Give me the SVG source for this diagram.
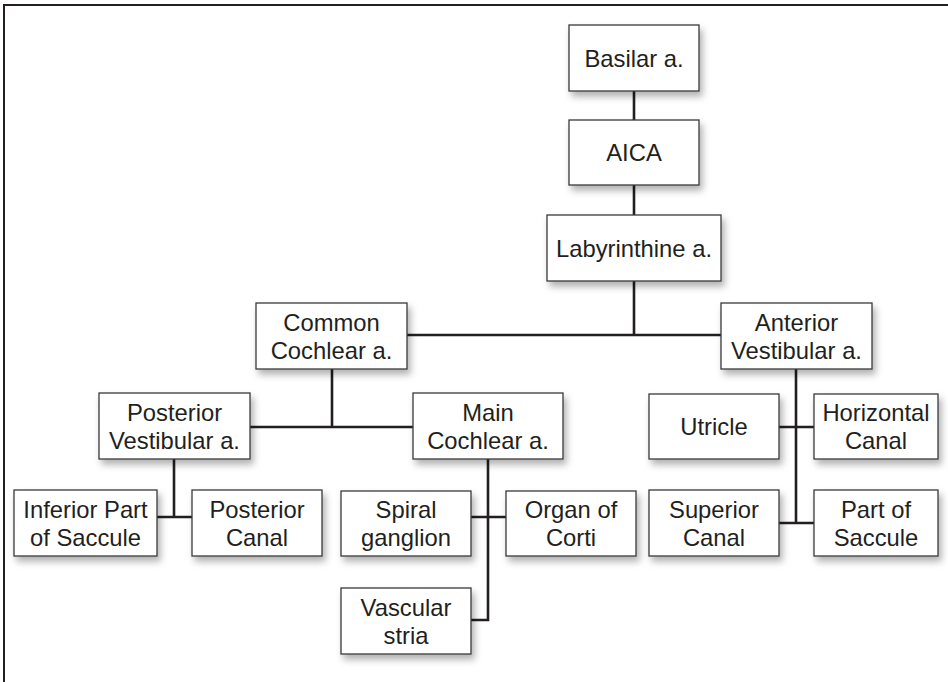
<svg xmlns="http://www.w3.org/2000/svg" width="948" height="682" viewBox="0 0 948 682">
  <defs>
    <filter id="shadow" x="-20%" y="-20%" width="150%" height="160%">
      <feDropShadow dx="3" dy="5" stdDeviation="3.5" flood-color="#000" flood-opacity="0.3"/>
    </filter>
    <style>
      .box { fill: #fff; stroke: #3a3a3a; stroke-width: 1.3; filter: url(#shadow); }
      .lbl { font-family: "Liberation Sans", Arial, Helvetica, sans-serif; font-size: 23.8px; fill: #231f20; text-anchor: middle; }
      .wire { fill: none; stroke: #231f20; stroke-width: 2.6; }
      .frame { fill: none; stroke: #231f20; stroke-width: 2; }
    </style>
  </defs>

  <rect width="948" height="682" fill="#fff"/>
  <path class="frame" d="M4,682 V5 H948"/>

  <!-- connectors -->
  <g id="connectors">
    <path class="wire" d="M634,91 V120 M634,185 V215 M634,281 V335"/>
    <path class="wire" d="M407,335 H721"/>
    <path class="wire" d="M332,369 V427 M250,427 H413"/>
    <path class="wire" d="M174,459 V517 M157,517 H192"/>
    <path class="wire" d="M488,459 V620 H471 M471,517 H506"/>
    <path class="wire" d="M796,369 V523 M779,427 H814 M779,523 H814"/>
  </g>

  <!-- nodes -->
  <g id="basilar">
    <rect class="box" x="569" y="25" width="130" height="66"/>
    <text class="lbl" x="634" y="66.5">Basilar a.</text>
  </g>
  <g id="aica">
    <rect class="box" x="569" y="120" width="130" height="65"/>
    <text class="lbl" x="634" y="161">AICA</text>
  </g>
  <g id="labyrinthine">
    <rect class="box" x="547" y="215" width="174" height="66"/>
    <text class="lbl" x="634" y="256.5">Labyrinthine a.</text>
  </g>
  <g id="common-cochlear">
    <rect class="box" x="256" y="303" width="151" height="66"/>
    <text class="lbl" x="331.5" y="331">Common</text>
    <text class="lbl" x="331.5" y="359">Cochlear a.</text>
  </g>
  <g id="anterior-vestibular">
    <rect class="box" x="721" y="303" width="151" height="66"/>
    <text class="lbl" x="796.5" y="331">Anterior</text>
    <text class="lbl" x="796.5" y="359">Vestibular a.</text>
  </g>
  <g id="posterior-vestibular">
    <rect class="box" x="99" y="393" width="151" height="66"/>
    <text class="lbl" x="174.5" y="421">Posterior</text>
    <text class="lbl" x="174.5" y="449">Vestibular a.</text>
  </g>
  <g id="main-cochlear">
    <rect class="box" x="413" y="393" width="150" height="66"/>
    <text class="lbl" x="488" y="421">Main</text>
    <text class="lbl" x="488" y="449">Cochlear a.</text>
  </g>
  <g id="utricle">
    <rect class="box" x="649" y="394" width="130" height="65"/>
    <text class="lbl" x="714" y="435">Utricle</text>
  </g>
  <g id="horizontal-canal">
    <rect class="box" x="814" y="394" width="124" height="65"/>
    <text class="lbl" x="876" y="421">Horizontal</text>
    <text class="lbl" x="876" y="449">Canal</text>
  </g>
  <g id="inferior-saccule">
    <rect class="box" x="14" y="490" width="143" height="66"/>
    <text class="lbl" x="85.5" y="518">Inferior Part</text>
    <text class="lbl" x="85.5" y="546">of Saccule</text>
  </g>
  <g id="posterior-canal">
    <rect class="box" x="192" y="490" width="130" height="66"/>
    <text class="lbl" x="257" y="518">Posterior</text>
    <text class="lbl" x="257" y="546">Canal</text>
  </g>
  <g id="spiral-ganglion">
    <rect class="box" x="341" y="491" width="130" height="65"/>
    <text class="lbl" x="406" y="518">Spiral</text>
    <text class="lbl" x="406" y="546">ganglion</text>
  </g>
  <g id="organ-of-corti">
    <rect class="box" x="506" y="491" width="130" height="65"/>
    <text class="lbl" x="571" y="518">Organ of</text>
    <text class="lbl" x="571" y="546">Corti</text>
  </g>
  <g id="superior-canal">
    <rect class="box" x="649" y="490" width="130" height="66"/>
    <text class="lbl" x="714" y="518">Superior</text>
    <text class="lbl" x="714" y="546">Canal</text>
  </g>
  <g id="part-saccule">
    <rect class="box" x="814" y="490" width="124" height="66"/>
    <text class="lbl" x="876" y="518">Part of</text>
    <text class="lbl" x="876" y="546">Saccule</text>
  </g>
  <g id="vascular-stria">
    <rect class="box" x="341" y="588" width="130" height="66"/>
    <text class="lbl" x="406" y="616">Vascular</text>
    <text class="lbl" x="406" y="644">stria</text>
  </g>
</svg>
